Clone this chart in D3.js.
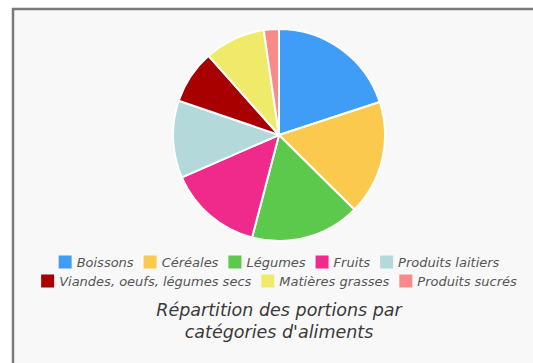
<!DOCTYPE html>
<html>
<head>
<meta charset="utf-8">
<script src="https://cdn.jsdelivr.net/npm/d3@7"></script>
<style>
  body { margin: 0; background: #fff; }
  svg { display: block; }
</style>
</head>
<body>
<svg width="533" height="363"></svg>
<script>
const width = 533;
const height = 363;

const categories = ["Boissons", "Céréales", "Légumes", "Fruits", "Produits laitiers",
                    "Viandes, oeufs, légumes secs", "Matières grasses", "Produits sucrés"];
const portions = [20, 17.5, 16.7, 14.4, 11.8, 8.2, 9.3, 2.3];
const colors = ["#3f9cf7", "#fcc94f", "#5cc94c", "#f02a8a", "#b3d9da", "#a80000", "#f0ea6a", "#f98a8a"];
const legendRows = [[0, 1, 2, 3, 4], [5, 6, 7]];
const titleLines = ["Répartition des portions par", "catégories d'aliments"];

const cx = 279;
const cy = 135;
const radius = 106;

const svg = d3.select('svg');

// cadre
svg.append('rect')
    .attr('x', 13)
    .attr('y', 9)
    .attr('width', width)
    .attr('height', height)
    .attr('fill', '#f8f8f8')
    .attr('stroke', '#7a7a7a')
    .attr('stroke-width', 2.5)

const color = d3.scaleOrdinal()
                .domain(categories)
                .range(colors)

const pie = d3.pie()
              .sort(null)
              .value(d => d.value)

const arc = d3.arc()
              .innerRadius(0)
              .outerRadius(radius)

const slices = pie(categories.map((c, i) => ({ name: c, value: portions[i] })))

svg.append('g')
    .attr('transform', 'translate(' + cx + ',' + cy + ')')
  .selectAll('path')
  .data(slices)
  .enter()
  .append('path')
    .attr('d', arc)
    .attr('fill', d => color(d.data.name))
    .attr('stroke', '#fff')
    .attr('stroke-width', 2)

// légende
const legendFont = 'italic 13px "DejaVu Sans"';
const box = 13;
const boxGap = 5;
const itemGap = 10;
const rowY = [262, 281];

const ctx = document.createElement('canvas').getContext('2d');
ctx.font = legendFont;

legendRows.forEach((row, r) => {
    const widths = row.map(i => box + boxGap + ctx.measureText(categories[i]).width)
    const total = d3.sum(widths) + itemGap * (row.length - 1)
    let x = cx - total / 2
    row.forEach((i, k) => {
        const g = svg.append('g')
            .attr('transform', 'translate(' + x + ',' + rowY[r] + ')')
        g.append('rect')
            .attr('x', 0)
            .attr('y', -box / 2)
            .attr('width', box)
            .attr('height', box)
            .attr('fill', color(categories[i]))
        g.append('text')
            .text(categories[i])
            .attr('x', box + boxGap)
            .attr('y', 0)
            .attr('dy', '0.35em')
            .style('font', legendFont)
            .attr('fill', '#555')
        x += widths[k] + itemGap
    })
})

// titre
svg.append('text')
    .attr('x', cx)
    .attr('y', 316)
    .attr('text-anchor', 'middle')
    .style('font', 'italic 17.5px "DejaVu Sans"')
    .attr('fill', '#3a3a3a')
  .selectAll('tspan')
  .data(titleLines)
  .enter()
  .append('tspan')
    .attr('x', cx)
    .attr('dy', (d, i) => i === 0 ? 0 : 22)
    .text(d => d)
</script>
</body>
</html>
